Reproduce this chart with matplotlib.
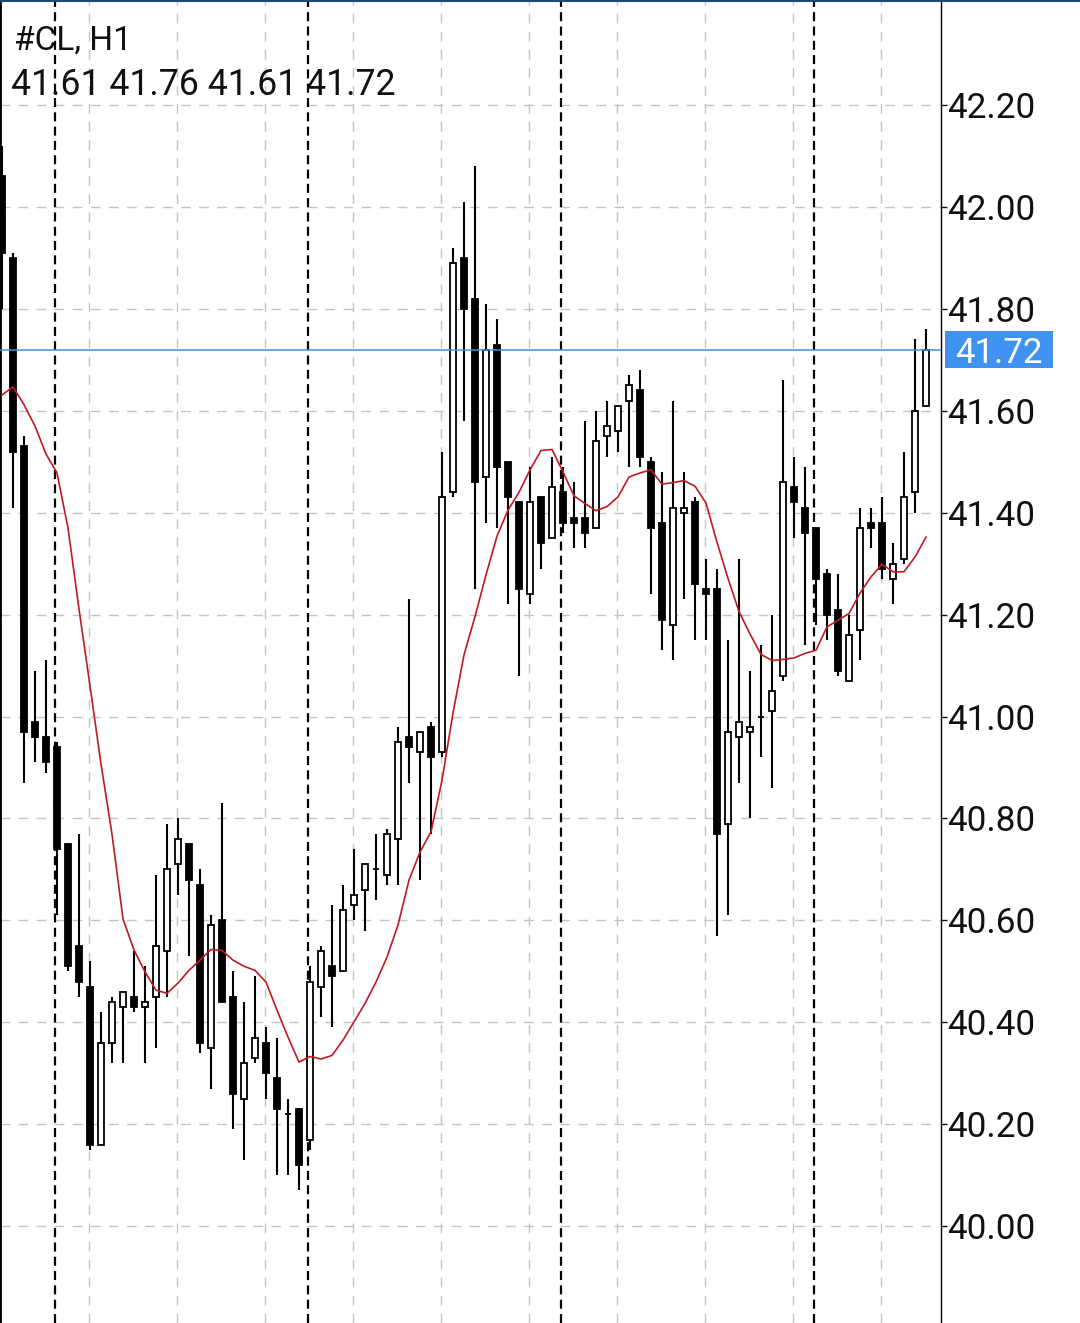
import matplotlib
matplotlib.use("Agg")
import matplotlib.pyplot as plt
import matplotlib.patches as patches
from matplotlib.lines import Line2D
import matplotlib.transforms as mtransforms
import numpy as np

plt.rcParams['font.family'] = ['Roboto', 'DejaVu Sans']
plt.rcParams['lines.scale_dashes'] = False

# #CL H1 bars (oldest -> newest)
opens = [42.06, 41.90, 41.53, 40.99, 40.96, 40.94, 40.75, 40.55, 40.47, 40.16,
         40.36, 40.43, 40.45, 40.43, 40.45, 40.54, 40.71, 40.75, 40.67, 40.35,
         40.60, 40.45, 40.25, 40.33, 40.36, 40.29, 40.22, 40.23, 40.17, 40.47,
         40.51, 40.50, 40.63, 40.66, 40.70, 40.69, 40.76, 40.96, 40.93, 40.98,
         40.93, 41.44, 41.90, 41.82, 41.47, 41.73, 41.50, 41.42, 41.24, 41.43,
         41.35, 41.44, 41.39, 41.39, 41.37, 41.55, 41.56, 41.62, 41.64, 41.50,
         41.38, 41.18, 41.40, 41.42, 41.25, 41.25, 40.79, 40.96, 40.97, 41.00,
         41.01, 41.08, 41.45, 41.41, 41.37, 41.28, 41.21, 41.07, 41.17, 41.38,
         41.38, 41.27, 41.31, 41.44, 41.61]
highs = [42.12, 41.91, 41.55, 41.09, 41.11, 40.95, 40.75, 40.77, 40.52, 40.42,
         40.45, 40.46, 40.54, 40.51, 40.69, 40.79, 40.80, 40.75, 40.70, 40.61,
         40.83, 40.50, 40.44, 40.49, 40.39, 40.37, 40.25, 40.23, 40.51, 40.55,
         40.63, 40.67, 40.74, 40.71, 40.77, 40.78, 40.98, 41.23, 40.97, 40.99,
         41.52, 41.92, 42.01, 42.08, 41.81, 41.78, 41.50, 41.42, 41.49, 41.43,
         41.51, 41.49, 41.46, 41.58, 41.60, 41.62, 41.61, 41.67, 41.68, 41.51,
         41.48, 41.62, 41.48, 41.43, 41.31, 41.29, 41.15, 41.31, 41.09, 41.14,
         41.20, 41.66, 41.51, 41.49, 41.37, 41.29, 41.28, 41.20, 41.41, 41.41,
         41.43, 41.34, 41.52, 41.74, 41.76]
lows = [41.80, 41.41, 40.87, 40.91, 40.89, 40.61, 40.50, 40.45, 40.15, 40.16,
        40.32, 40.32, 40.42, 40.32, 40.35, 40.45, 40.65, 40.53, 40.34, 40.27,
        40.44, 40.19, 40.13, 40.32, 40.25, 40.10, 40.10, 40.07, 40.15, 40.41,
        40.39, 40.50, 40.60, 40.58, 40.64, 40.67, 40.67, 40.87, 40.68, 40.77,
        40.92, 41.43, 41.58, 41.25, 41.38, 41.37, 41.22, 41.08, 41.22, 41.29,
        41.35, 41.36, 41.33, 41.33, 41.37, 41.51, 41.52, 41.49, 41.49, 41.24,
        41.13, 41.11, 41.23, 41.15, 41.15, 40.57, 40.61, 40.87, 40.80, 40.92,
        40.86, 41.07, 41.35, 41.14, 41.18, 41.15, 41.08, 41.07, 41.11, 41.33,
        41.27, 41.22, 41.30, 41.40, 41.61]
closes = [41.91, 41.52, 40.97, 40.96, 40.91, 40.74, 40.51, 40.48, 40.16, 40.36,
          40.44, 40.46, 40.43, 40.44, 40.55, 40.70, 40.76, 40.68, 40.36, 40.59,
          40.44, 40.26, 40.32, 40.37, 40.30, 40.23, 40.22, 40.12, 40.48, 40.54,
          40.49, 40.62, 40.65, 40.71, 40.70, 40.77, 40.95, 40.94, 40.97, 40.92,
          41.43, 41.89, 41.80, 41.46, 41.72, 41.49, 41.43, 41.25, 41.42, 41.34,
          41.45, 41.38, 41.38, 41.36, 41.54, 41.57, 41.61, 41.65, 41.51, 41.37,
          41.19, 41.41, 41.41, 41.26, 41.24, 40.77, 40.97, 40.99, 40.98, 41.00,
          41.05, 41.46, 41.42, 41.36, 41.27, 41.20, 41.09, 41.16, 41.37, 41.37,
          41.29, 41.30, 41.43, 41.60, 41.72]
# moving average line as shown on the chart
ma_values = [41.631, 41.647, 41.612, 41.570, 41.515, 41.478, 41.370, 41.211, 41.060, 40.907,
             40.769, 40.603, 40.542, 40.499, 40.463, 40.457, 40.477, 40.502, 40.522, 40.543,
             40.541, 40.522, 40.510, 40.502, 40.479, 40.424, 40.371, 40.322, 40.333, 40.328,
             40.335, 40.365, 40.401, 40.437, 40.479, 40.528, 40.591, 40.679, 40.734, 40.774,
             40.875, 41.007, 41.121, 41.196, 41.278, 41.354, 41.405, 41.440, 41.484, 41.522,
             41.524, 41.480, 41.433, 41.418, 41.404, 41.412, 41.431, 41.470, 41.478, 41.484,
             41.456, 41.459, 41.463, 41.452, 41.419, 41.342, 41.271, 41.206, 41.162, 41.122,
             41.110, 41.112, 41.115, 41.124, 41.130, 41.176, 41.189, 41.202, 41.242, 41.274,
             41.299, 41.284, 41.284, 41.313, 41.352]
day_starts = [5, 28, 51, 74]
price_ticks = [40.00, 40.20, 40.40, 40.60, 40.80, 41.00, 41.20, 41.40, 41.60, 41.80, 42.00, 42.20]
symbol = "#CL, H1"
last_price = 41.72

fig = plt.figure(figsize=(10.8, 13.23), dpi=100)
ax = fig.add_axes([0, 0, 941 / 1080, 1])
ax.set_xlim(-2 / 11, 939 / 11)
ax.set_ylim(39.810, 42.406)

o = np.array(opens)
h = np.array(highs)
l = np.array(lows)
c = np.array(closes)
idx = np.arange(len(o))
up = c >= o

# grid
grid_kw = dict(color='#c4c4c4', lw=1.0, linestyle=(0, (7, 6)), zorder=0)
for p in price_ticks:
    ax.axhline(p, **grid_kw)
for k in range(8, len(o), 8):
    ax.axvline(k - 0.1, **grid_kw)
for d in day_starts:
    ax.axvline(d - 0.2, color='black', lw=1.6, linestyle=(0, (6.5, 3.8)), zorder=1)

# candles
ax.vlines(idx, l, h, color='black', lw=1.5, zorder=2)
body_low = np.minimum(o, c)
body_h = np.abs(c - o)
ax.bar(idx[up], body_h[up], bottom=body_low[up], width=0.55,
       facecolor='white', edgecolor='black', linewidth=1.3, zorder=3)
ax.bar(idx[~up], body_h[~up], bottom=body_low[~up], width=0.55,
       facecolor='black', edgecolor='black', linewidth=1.3, zorder=3)

# moving average
ax.plot(idx, ma_values, color='#bf1b1e', lw=1.2, zorder=4)

# last price line and label
ax.axhline(last_price, color='#4a8fd4', lw=1.1, zorder=4)
trans = mtransforms.blended_transform_factory(ax.transAxes, ax.transData)
box_h = 37 / 509.5
ax.add_patch(patches.Rectangle((945 / 941, last_price - box_h / 2), 108 / 941, box_h,
                               transform=trans, facecolor='#3f92f2', edgecolor='none',
                               clip_on=False, zorder=5))
ax.text(998.5 / 941, last_price, f"{last_price:.2f}", transform=trans, ha='center', va='center_baseline',
        fontsize=25, color='white', zorder=6, clip_on=False)

# axis styling
ax.yaxis.tick_right()
ax.set_yticks(price_ticks)
ax.set_yticklabels([f"{p:.2f}" for p in price_ticks])
ax.tick_params(axis='y', length=4, width=1, pad=0.5, labelsize=25.3, colors='#111111')
ax.set_xticks([])
for s in ['top', 'bottom']:
    ax.spines[s].set_visible(False)
ax.spines['left'].set_linewidth(2)
ax.spines['right'].set_linewidth(1)

# header text
ax.text(14 / 941, 1 - 49.5 / 1323, symbol, transform=ax.transAxes, fontsize=24,
        color='#111111', va='baseline', ha='left', zorder=6)
ax.text(11 / 941, 1 - 95 / 1323, f"{opens[-1]:.2f} {highs[-1]:.2f} {lows[-1]:.2f} {closes[-1]:.2f}",
        transform=ax.transAxes, fontsize=25.7, color='#111111', va='baseline', ha='left', zorder=6)

fig.add_artist(Line2D([0, 1], [1 - 0.7 / 1323, 1 - 0.7 / 1323], transform=fig.transFigure,
                      color='#1f4a78', lw=1.5))

fig.savefig('out.png', dpi=100, facecolor='white')
